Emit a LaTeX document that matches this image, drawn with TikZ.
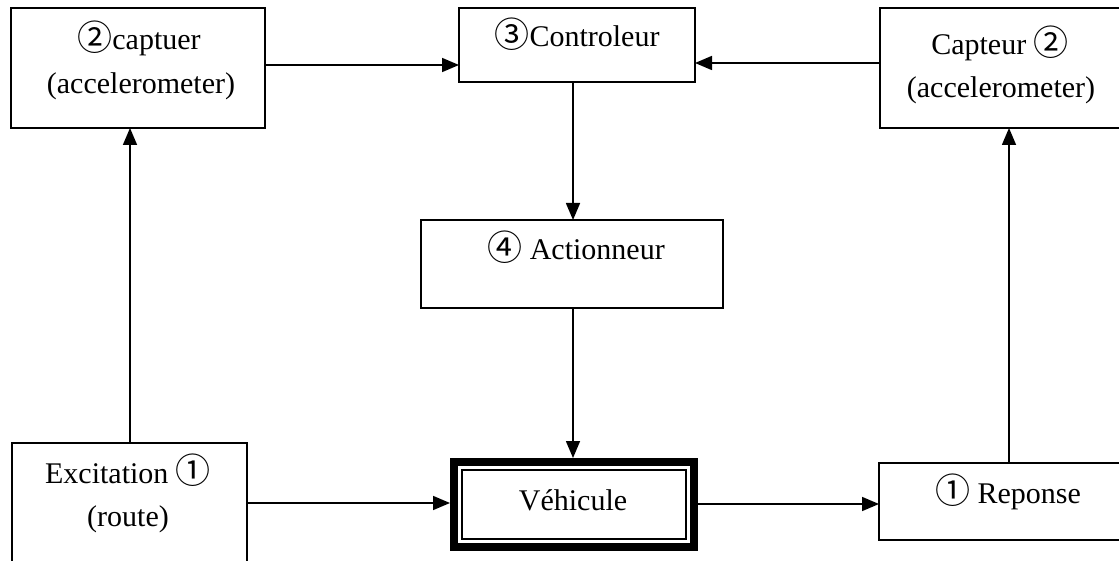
\documentclass[tikz,border=0pt]{standalone}
\usepackage{fontspec}
\setmainfont{Liberation Serif}
\newfontfamily\circfont{Noto Sans CJK JP}
\usetikzlibrary{arrows.meta}
\newcommand{\cnum}[1]{\raisebox{-0.5pt}{\circfont\fontsize{35}{40}\selectfont #1}}
\tikzset{
  box/.style={draw, line width=1.6pt, rectangle, inner sep=0pt, outer sep=0pt},
  txt/.style={anchor=base, inner sep=0pt, font=\fontsize{30}{36}\selectfont},
  arr/.style={line width=1.6pt, -{Triangle[length=17pt,width=14pt]}},
}
\begin{document}
\begin{tikzpicture}[x=1pt,y=-1pt]
\useasboundingbox (0,0) rectangle (1119,561);
\clip (0,0) rectangle (1119,561);
% boxes
\node[box, minimum width=254pt, minimum height=120pt] (cap1) at (138,68) {};
\node[box, minimum width=236pt, minimum height=74pt] (ctrl) at (577,45) {};
\node[box, minimum width=250pt, minimum height=120pt] (cap2) at (1005,68) {};
\node[box, minimum width=302pt, minimum height=88pt] (act) at (572,264) {};
\node[box, minimum width=235pt, minimum height=137pt] (exc) at (129.5,511.5) {};
\node[box, line width=8pt, outer sep=4pt, minimum width=240pt, minimum height=85pt] (veh) at (574,504.5) {};
\node[box, minimum width=224pt, minimum height=69pt] (vehin) at (574,504.5) {};
\node[box, minimum width=251pt, minimum height=77pt] (rep) at (1004.5,501.5) {};
% texts
\node[txt] (t1a) at (139,50) {\cnum{②}captuer};
\node[txt] (t1b) at (141,94) {(accelerometer)};
\node[txt] (t2) at (577,47) {\cnum{③}Controleur};
\node[txt] (t3a) at (1000,55) {Capteur \cnum{②}};
\node[txt] (t3b) at (1001,98) {(accelerometer)};
\node[txt] (t4) at (576,260) {\cnum{④} Actionneur};
\node[txt] (t5a) at (128,483) {Excitation \cnum{①}};
\node[txt] (t5b) at (128,526) {(route)};
\node[txt] (t6) at (573,510) {Véhicule};
\node[txt] (t7) at (1008,503) {\cnum{①} Reponse};
% connectors
\draw[arr] (cap1.east |- 0,65) -- (ctrl.west |- 0,65);
\draw[arr] (cap2.west |- 0,63) -- (ctrl.east |- 0,63);
\draw[arr] (ctrl.south -| 573,0) -- (act.north -| 573,0);
\draw[arr] (act.south -| 573,0) -- (veh.north -| 573,0);
\draw[arr] (exc.north -| 130,0) -- (cap1.south -| 130,0);
\draw[arr] (exc.east |- 0,503) -- (veh.west |- 0,503);
\draw[arr] (veh.east |- 0,504) -- (rep.west |- 0,504);
\draw[arr] (rep.north -| 1009,0) -- (cap2.south -| 1009,0);
\end{tikzpicture}
\end{document}
